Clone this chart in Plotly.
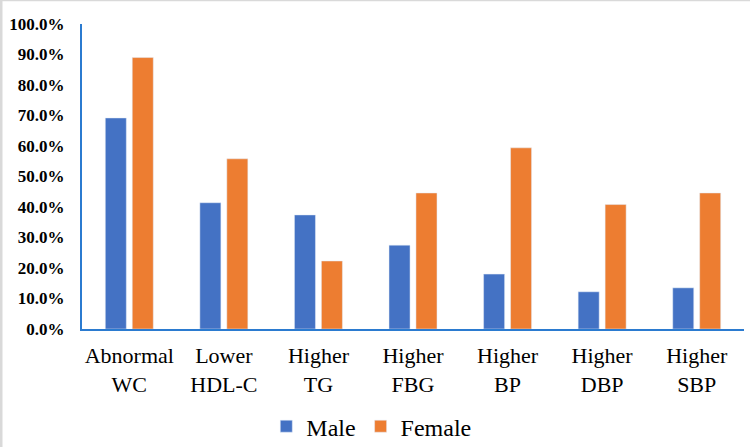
import plotly.graph_objects as go

categories = ["Abnormal<br>WC", "Lower<br>HDL-C", "Higher<br>TG", "Higher<br>FBG",
              "Higher<br>BP", "Higher<br>DBP", "Higher<br>SBP"]
male = [69.2, 41.4, 37.4, 27.5, 18.0, 12.2, 13.5]
female = [89.0, 55.8, 22.3, 44.6, 59.4, 40.8, 44.6]
y_ticks = [0, 10, 20, 30, 40, 50, 60, 70, 80, 90, 100]

axis_blue = "#2B7BD0"
serif = "'Liberation Serif', 'Times New Roman', Times, serif"

fig = go.Figure()
fig.add_trace(go.Bar(x=categories, y=male, name="Male", marker_color="#4472C4"))
fig.add_trace(go.Bar(x=categories, y=female, name="Female", marker_color="#ED7D31"))

fig.update_layout(
    width=750, height=447,
    margin=dict(l=82, r=6, t=24, b=118, autoexpand=False),
    plot_bgcolor="white", paper_bgcolor="white",
    barmode="group", bargap=0.43, bargroupgap=0.22,
    font=dict(family=serif, color="black"),
    legend=dict(orientation="h", x=0.437, xanchor="center", y=-0.32, yanchor="middle",
                font=dict(size=24, family=serif), itemwidth=30,
                traceorder="normal"),
    showlegend=True,
)
fig.update_xaxes(
    showline=True, linecolor=axis_blue, linewidth=2, ticks="",
    ticklabelstandoff=6,
    tickfont=dict(size=22, family=serif),
)
fig.update_yaxes(
    range=[0, 100], tickvals=y_ticks, ticktext=[f"<b>{v:.1f}%</b>" for v in y_ticks],
    showgrid=False, zeroline=False, showline=True, linecolor=axis_blue, linewidth=2,
    ticks="", ticklabelstandoff=12,
    tickfont=dict(size=17, family=serif),
)

# light frame on the left and top edges, like the source image
fig.add_shape(type="line", xref="paper", yref="paper", x0=-81/662, x1=-81/662, y0=-118/305, y1=24/305 + 1,
              line=dict(color="#d9d9d9", width=3))
fig.add_shape(type="line", xref="paper", yref="paper", x0=-82/662, x1=1 + 6/662, y0=1 + 23.5/305, y1=1 + 23.5/305,
              line=dict(color="#d9d9d9", width=1.5))

fig.write_html("out.html", config={"displayModeBar": False},
               post_script="document.body.style.margin='0';")
